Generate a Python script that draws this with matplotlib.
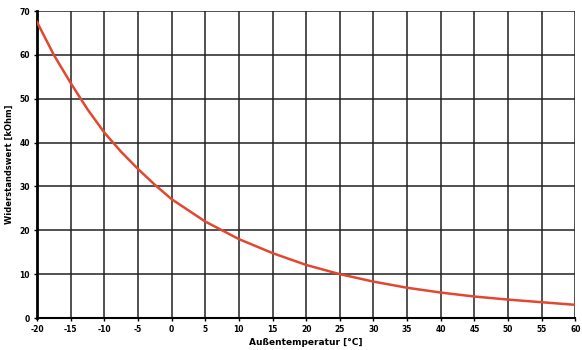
import matplotlib.pyplot as plt
import numpy as np

# NTC sensor curve
temps = [-20, -17.5, -15, -12.5, -10, -7.5, -5, -2.5, 0, 5, 10, 15, 20, 25, 30,
         35, 40, 45, 50, 55, 60]
resistance = [67.5, 60.0, 53.6, 47.6, 42.3, 37.9, 34.0, 30.4, 27.1, 22.0, 18.0,
              14.8, 12.1, 10.0, 8.3, 6.9, 5.8, 4.9, 4.2, 3.6, 3.0]
x_ticks = list(range(-20, 61, 5))
y_ticks = list(range(0, 71, 10))


def main():
    plt.rcParams["axes.unicode_minus"] = False
    fig = plt.figure(figsize=(5.82, 3.5), dpi=100)
    ax = fig.add_axes([0.0636, 0.0914, 0.925, 0.877])

    ax.plot(temps, resistance, color="#e2472f", lw=1.8, zorder=3)

    ax.set_xlim(-20, 60)
    ax.set_ylim(0, 70)
    ax.set_xticks(x_ticks)
    ax.set_yticks(y_ticks)
    ax.grid(True, color="#222222", lw=1.1)
    ax.set_axisbelow(True)
    for side in ["top", "right"]:
        ax.spines[side].set_visible(False)
    ax.spines["left"].set_linewidth(2.0)
    ax.spines["bottom"].set_linewidth(1.5)
    ax.tick_params(labelsize=5.5, length=2, width=1, pad=3)
    for lab in ax.get_xticklabels() + ax.get_yticklabels():
        lab.set_fontweight("bold")
    ax.set_xlabel("Außentemperatur [°C]", fontsize=6.5, fontweight="bold", labelpad=3)
    ax.set_ylabel("Widerstandswert [kOhm]", fontsize=6, fontweight="bold", labelpad=4)

    fig.savefig("out.png", dpi=100)


if __name__ == "__main__":
    main()
